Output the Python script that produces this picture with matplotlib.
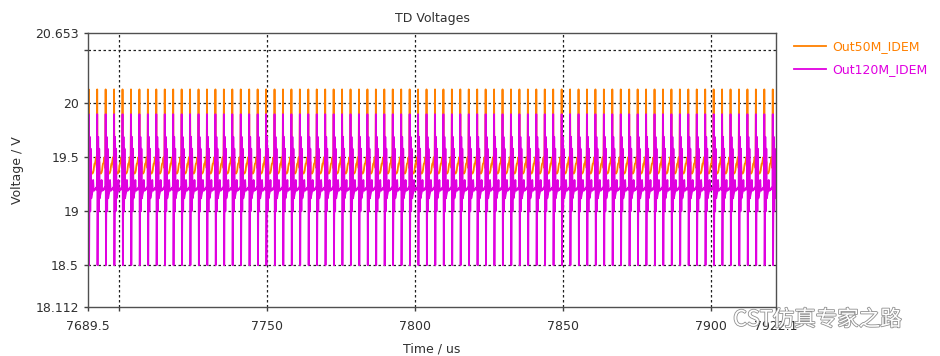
import numpy as np
import matplotlib
matplotlib.use('Agg')
import matplotlib.pyplot as plt
import matplotlib.patheffects as pe

# Axis range and tick labels (as shown on the plot)
t_start = 7689.5
t_end = 7922.1
v_min = 18.112
v_max = 20.653
x_ticks = [7689.5, 7700, 7750, 7800, 7850, 7900, 7922.1]
x_tick_labels = ['7689.5', '', '7750', '7800', '7850', '7900', '7922.1']
y_ticks = [18.112, 18.5, 19, 19.5, 20, 20.5, 20.653]
y_tick_labels = ['18.112', '18.5', '19', '19.5', '20', '', '20.653']
x_grid = [7700, 7750, 7800, 7850, 7900]
y_grid = [18.5, 19, 19.5, 20, 20.5]

# Switching waveform: one period, repeated every spike
first_spike = 7692.5   # us
spike_period = 2.855   # us
n_periods = 82
phase = [0.00, 0.04, 0.08, 0.16, 0.22, 0.28, 0.34, 0.40, 0.48, 0.56, 0.62, 0.66, 0.72, 0.80, 0.90, 0.95, 1.00]
out50_shape = [19.40, 20.13, 19.37, 19.48, 19.38, 19.46, 19.37, 19.35, 19.35, 19.36, 19.38, 19.41, 19.44, 19.45, 19.50, 19.43, 19.40]
out120_shape = [19.20, 19.90, 18.50, 19.69, 19.00, 19.58, 19.12, 19.15, 19.18, 19.29, 19.20, 19.19, 19.20, 19.20, 19.22, 19.21, 19.20]

labels = ['Out50M_IDEM', 'Out120M_IDEM']
colors = ['#ff8000', '#e000e0']

# Build the time series by laying the period end to end
phase = np.array(phase)
t = np.concatenate([first_spike + (k + phase[:-1]) * spike_period for k in range(-1, n_periods)])
out50 = np.tile(out50_shape[:-1], n_periods + 1)
out120 = np.tile(out120_shape[:-1], n_periods + 1)

plt.rcParams['font.family'] = ['DejaVu Sans']
plt.rcParams['path.simplify'] = False  # keep every ringing step of the spikes
fig = plt.figure(figsize=(9.4, 3.56), dpi=100)
ax = fig.add_axes([0.0936, 0.1376, 0.7319, 0.7697])

for xg in x_grid:
    ax.axvline(xg, color='#202020', ls=(0, (2, 2)), lw=0.9, zorder=0)
for yg in y_grid:
    ax.axhline(yg, color='#202020', ls=(0, (2, 2)), lw=0.9, zorder=0)

ax.plot(t, out50, color=colors[0], lw=1.3, label=labels[0])
ax.plot(t, out120, color=colors[1], lw=1.3, label=labels[1])

ax.set_xlim(t_start, t_end)
ax.set_ylim(v_min, v_max)
ax.set_xticks(x_ticks)
ax.set_xticklabels(x_tick_labels)
ax.set_yticks(y_ticks)
ax.set_yticklabels(y_tick_labels)
ax.tick_params(labelsize=9, colors='#404040', labelcolor='#303030', length=3, width=1)
ax.tick_params(axis='x', pad=6)
for s in ax.spines.values():
    s.set_color('#505050')
    s.set_linewidth(1)

ax.set_title('TD Voltages', fontsize=9, color='#303030', pad=8)
ax.set_xlabel('Time / us', fontsize=9, color='#303030', labelpad=7)
ax.set_ylabel('Voltage / V', fontsize=9, color='#303030', labelpad=8)

leg = ax.legend(loc='upper left', bbox_to_anchor=(1.015, 1.0), frameon=False, fontsize=9,
                handlelength=2.6, handletextpad=0.5, borderaxespad=0.2, labelspacing=0.75)
for txt, c in zip(leg.get_texts(), colors):
    txt.set_color(c)

# watermark
fig.text(0.78, 0.085, 'CST仿真专家之路', fontsize=15.5, color='white',
         family=['Noto Sans CJK SC', 'DejaVu Sans'],
         path_effects=[pe.withStroke(linewidth=1.2, foreground='#909090')])

fig.savefig('out.png', dpi=100)
